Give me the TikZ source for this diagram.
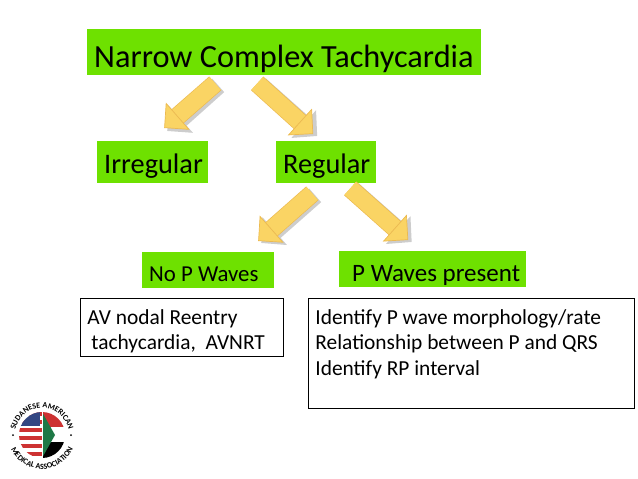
\documentclass[tikz,border=0pt]{standalone}
\usepackage{fontspec}
\setmainfont{Carlito}
\usetikzlibrary{arrows.meta, decorations.text}
\definecolor{boxgreen}{RGB}{110,225,0}
\definecolor{arrowfill}{RGB}{250,212,100}
\definecolor{arrowedge}{RGB}{236,186,80}
\definecolor{arrowshade}{RGB}{205,205,205}
\definecolor{flagred}{RGB}{205,50,50}
\definecolor{flagblue}{RGB}{50,70,130}
\definecolor{flaggreen}{RGB}{30,120,70}
\begin{document}
\begin{tikzpicture}[x=1pt,y=-1pt,
  head/.style={rectangle,fill=boxgreen,inner sep=0pt,anchor=north west,align=flush left},
  note/.style={rectangle,draw=black,line width=0.8pt,inner sep=0pt,anchor=north west,align=flush left},
  bigfont/.style={font=\fontsize{32.3}{36}\selectfont},
  midfont/.style={font=\fontsize{28.3}{30}\selectfont},
  smallfont/.style={font=\fontsize{25}{28}\selectfont},
  nopfont/.style={font=\fontsize{22.8}{28}\selectfont},
  bodyfont/.style={font=\fontsize{21.4}{25.5}\selectfont},
  blockshade/.style={-{Triangle[length=18pt,width=36pt,color=arrowshade]},line width=18pt,arrowshade},
  blockarr/.style={-{Triangle[length=18pt,width=36pt,color=arrowedge,fill=arrowfill,line width=0.7pt]},draw=arrowedge,line width=0.7pt,double=arrowfill,double distance=17pt}
]
  \useasboundingbox (0,0) rectangle (638,479);
  \node[head,bigfont,text width=394pt,text height=38pt,text depth=8pt](title) at (87,29) {\hspace*{7pt}Narrow Complex Tachycardia};
  \node[head,midfont,text width=111pt,text height=32pt,text depth=10pt](irr) at (97,141) {\hspace*{7pt}Irregular};
  \node[head,midfont,text width=100pt,text height=32pt,text depth=10pt](reg) at (276,141) {\hspace*{7pt}Regular};
  \node[head,nopfont,text width=132pt,text height=29pt,text depth=7pt](nop) at (142,252) {\hspace*{7pt}No P Waves};
  \node[head,smallfont,text width=187pt,text height=30pt,text depth=6pt](pw) at (339,251) {\hspace*{13pt}P Waves present};
  \node[note,bodyfont,text width=203pt,text height=26pt,text depth=32pt](av) at (80,298) {\hspace*{7pt}AV nodal Reentry\\\hspace*{11pt}tachycardia,\ \ AVNRT};
  \node[note,bodyfont,text width=326pt,text height=26pt,text depth=84pt](id) at (308,298) {\hspace*{7pt}Identify P wave morphology/rate\\\hspace*{7pt}Relationship between P and QRS\\\hspace*{7pt}Identify RP interval};
  % arrows
  \draw[blockshade]([shift={(-66,10)}]title.south) -- ([shift={(14.5,-10)}]irr.north);
  \draw[blockshade]([shift={(-24,10)}]title.south) -- ([shift={(-9,-5)}]reg.north);
  \draw[blockshade]([shift={(-11,12)}]reg.south) -- ([shift={(53,-9)}]nop.north);
  \draw[blockshade]([shift={(27,7)}]reg.south) -- ([shift={(-21,-9)}]pw.north);
  \draw[blockarr]([shift={(-69,8)}]title.south) -- ([shift={(11.5,-13)}]irr.north);
  \draw[blockarr]([shift={(-27,8)}]title.south) -- ([shift={(-13,-7)}]reg.north);
  \draw[blockarr]([shift={(-14,10)}]reg.south) -- ([shift={(50,-11)}]nop.north);
  \draw[blockarr]([shift={(24,5)}]reg.south) -- ([shift={(-24.5,-11)}]pw.north);
  % logo
  \begin{scope}
    \clip (42,435) circle (23);
    \fill[white] (19,412) rectangle (42,458);
    \foreach \y in {412,420,428,436,444,452}
      \fill[flagred] (19,\y) rectangle (42,\y+4);
    \fill[flagblue] (19,412) rectangle (40,426);
    \fill[flagred] (42,412) rectangle (65,427);
    \fill[white] (42,427) rectangle (65,442);
    \fill[black] (42,442) rectangle (65,458);
    \fill[flaggreen] (42,412) -- (55,435) -- (42,458) -- cycle;
  \end{scope}
  \draw[white,line width=1pt] (42,412) -- (42,458);
  \fill[black] (13,435) circle (1) (71,435) circle (1);
  \path[postaction={decorate,decoration={text along path,text align=center,
    text={|\fontsize{8}{9}\selectfont\bfseries|SUDANESE AMERICAN}}}]
    (15,435) arc[start angle=180,end angle=0,radius=27,y radius=-27];
  \path[postaction={decorate,decoration={text along path,text align=center,
    text={|\fontsize{8}{9}\selectfont\bfseries|MEDICAL ASSOCIATION}}}]
    (8,435) arc[start angle=180,end angle=360,radius=34,y radius=-34];
\end{tikzpicture}
\end{document}
